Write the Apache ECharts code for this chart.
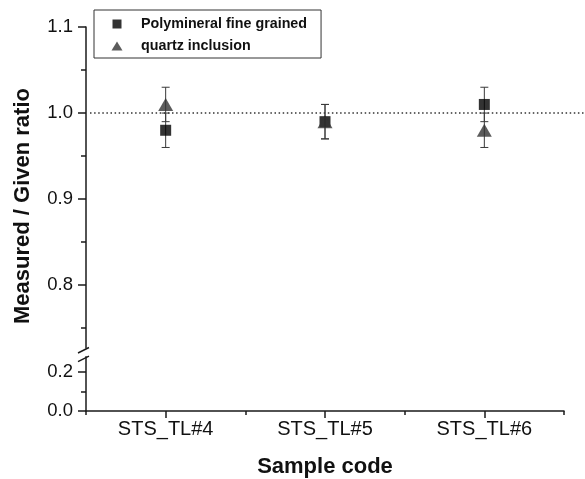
<!DOCTYPE html>
<html><head><meta charset="utf-8">
<script src="https://cdn.jsdelivr.net/npm/echarts@6/dist/echarts.min.js"></script>
<style>html,body{margin:0;padding:0;background:#fff}#c{width:585px;height:479px}</style>
</head><body><div id="c"></div>
<script>
const categories = ['STS_TL#4', 'STS_TL#5', 'STS_TL#6'];
const polyValues = [0.98, 0.99, 1.01];
const polyLow = [0.96, 0.97, 0.99];
const polyHigh = [1.00, 1.01, 1.03];
const quartzValues = [1.01, 0.99, 0.98];
const quartzLow = [0.99, 0.97, 0.96];
const quartzHigh = [1.03, 1.01, 1.00];
const upperMajor = [0.8, 0.9, 1.0, 1.1];
const upperMinor = [0.75, 0.85, 0.95, 1.05];
const lowerMajor = [0.0, 0.2];
const lowerMinor = [0.1];
const refValue = 1.0;

const FONT = 'Arial, "Liberation Sans", Helvetica, sans-serif';
const AX = '#1a1a1a';
const chart = echarts.init(document.getElementById('c'), null, {renderer: 'canvas'});

const gridL = 86, gridR = 21;
function yAxisBase(grid, min, max, vals, showLabels, len, showLine) {
  return {
    type: 'value', gridIndex: grid, min: min, max: max, position: 'left',
    axisLine: {show: showLine, onZero: false, lineStyle: {color: AX, width: 1.5}},
    axisTick: {show: true, customValues: vals, length: len, inside: false, lineStyle: {color: AX, width: 1.5}},
    axisLabel: {show: showLabels, customValues: vals, formatter: v => v.toFixed(1), fontSize: 18.5, color: '#111', fontFamily: FONT, margin: 13},
    splitLine: {show: false}
  };
}

function errData(low, high) { return categories.map((c, i) => [i, low[i], high[i]]); }
function errRender(params, api) {
  const lo = api.coord([api.value(0), api.value(1)]);
  const hi = api.coord([api.value(0), api.value(2)]);
  const w = 4;
  const st = {stroke: '#3a3a3a', lineWidth: 1};
  return {type: 'group', children: [
    {type: 'line', shape: {x1: lo[0], y1: lo[1], x2: hi[0], y2: hi[1]}, style: st},
    {type: 'line', shape: {x1: lo[0] - w, y1: lo[1], x2: lo[0] + w, y2: lo[1]}, style: st},
    {type: 'line', shape: {x1: hi[0] - w, y1: hi[1], x2: hi[0] + w, y2: hi[1]}, style: st}
  ]};
}

const option = {
  animation: false,
  backgroundColor: '#fff',
  grid: [
    {left: gridL, right: gridR, top: 27, height: 321},
    {left: gridL, right: gridR, top: 356.7, height: 54.3}
  ],
  xAxis: [
    {type: 'category', gridIndex: 0, data: categories, show: false},
    {type: 'category', gridIndex: 1, data: categories, position: 'bottom',
     axisLine: {show: true, lineStyle: {color: AX, width: 1.5}},
     axisTick: {show: true, alignWithLabel: true, length: 7, lineStyle: {color: AX, width: 1.5}},
     axisLabel: {fontSize: 20, color: '#111', fontFamily: FONT, margin: 8},
     name: 'Sample code', nameLocation: 'middle', nameGap: 45,
     nameTextStyle: {fontSize: 22, fontWeight: 'bold', color: '#111', fontFamily: FONT}},
    {type: 'category', gridIndex: 1, data: categories, position: 'bottom',
     axisLine: {show: false},
     axisTick: {show: true, alignWithLabel: false, interval: 0, length: 4, lineStyle: {color: AX, width: 1.5}},
     axisLabel: {show: false}}
  ],
  yAxis: [
    yAxisBase(0, 0.727, 1.1, upperMajor, true, 8, true),
    yAxisBase(0, 0.727, 1.1, upperMinor, false, 5, false),
    yAxisBase(1, 0, 0.275, lowerMajor, true, 8, true),
    yAxisBase(1, 0, 0.275, lowerMinor, false, 5, false)
  ],
  legend: {
    orient: 'vertical', left: 94, top: 10,
    borderColor: '#333', borderWidth: 1, borderRadius: 0,
    padding: [7, 14, 5, 17.5],
    itemWidth: 11, itemHeight: 9, itemGap: 8,
    symbolKeepAspect: true,
    textStyle: {fontSize: 14.3, fontWeight: 'bold', color: '#111', fontFamily: FONT, padding: [0, 0, 0, 13.5]},
    data: [
      {name: 'Polymineral fine grained', icon: 'path://M0,0L10,0L10,10L0,10Z'},
      {name: 'quartz inclusion', icon: 'triangle'}
    ]
  },
  series: [
    {type: 'custom', name: 'poly-err', xAxisIndex: 0, yAxisIndex: 0, data: errData(polyLow, polyHigh), renderItem: errRender, z: 1, silent: true},
    {type: 'custom', name: 'quartz-err', xAxisIndex: 0, yAxisIndex: 0, data: errData(quartzLow, quartzHigh), renderItem: errRender, z: 1, silent: true},
    {type: 'scatter', name: 'Polymineral fine grained', xAxisIndex: 0, yAxisIndex: 0,
     data: polyValues, symbol: 'rect', symbolSize: 11, itemStyle: {color: '#000'}, z: 3},
    {type: 'scatter', name: 'quartz inclusion', xAxisIndex: 0, yAxisIndex: 0,
     data: quartzValues, symbol: 'triangle', symbolSize: [15, 13], itemStyle: {color: '#333'}, z: 4}
  ]
};
chart.setOption(option);

// decorations computed from the axes: reference dotted line, axis break marks, y title
const refPt = chart.convertToPixel({xAxisIndex: 0, yAxisIndex: 0}, [0, refValue]);
const upBottom = chart.convertToPixel({yAxisIndex: 0}, 0.727);
const upTop = chart.convertToPixel({yAxisIndex: 0}, 1.1);
const loTop = chart.convertToPixel({yAxisIndex: 2}, 0.275);
const loBottom = chart.convertToPixel({yAxisIndex: 2}, 0);
const ax = gridL;
const brk = {stroke: AX, lineWidth: 1.5};
chart.setOption({
  graphic: [
    {type: 'line', shape: {x1: ax + 4, y1: refPt[1], x2: 585, y2: refPt[1]},
     style: {stroke: '#333', lineWidth: 1.5, lineDash: [1.5, 2.6]}, z: 0},
    {type: 'line', shape: {x1: ax - 8, y1: upBottom + 5, x2: ax + 3, y2: upBottom - 0.5}, style: brk},
    {type: 'line', shape: {x1: ax - 8, y1: loTop + 5, x2: ax + 3, y2: loTop - 0.5}, style: brk},
    {type: 'text', x: 23, y: (upTop + loBottom) / 2 - 13, rotation: Math.PI / 2,
     style: {text: 'Measured / Given ratio', fontSize: 22, fontWeight: 'bold', fill: '#111',
             fontFamily: FONT, align: 'center', verticalAlign: 'middle'}}
  ]
});
</script>
</body></html>
